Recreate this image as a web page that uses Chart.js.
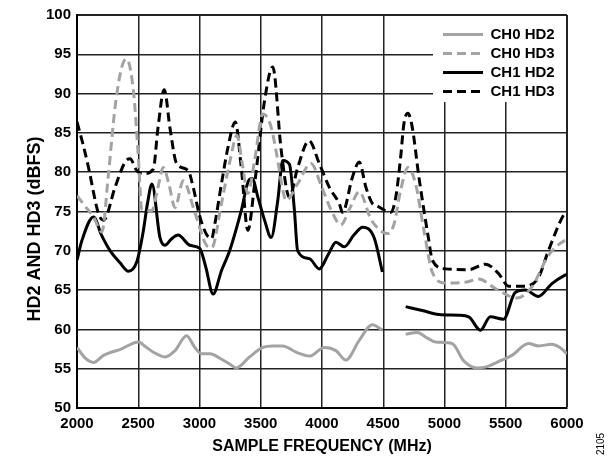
<!DOCTYPE html>
<html>
<head>
<meta charset="utf-8">
<title>HD2 and HD3 vs Sample Frequency</title>
<script src="https://cdn.jsdelivr.net/npm/chart.js@4.4.1/dist/chart.umd.min.js"></script>
<style>
  html, body { margin: 0; padding: 0; background: #fff; }
  canvas { display: block; }
</style>
</head>
<body>
<canvas id="hdChart" width="616" height="458"></canvas>
<script>
// values (MHz, dBFS); null marks the break in the HD2 traces
const ch0Hd2Freq = [2000, 2070, 2135, 2217, 2360, 2501, 2560, 2623, 2718, 2800, 2894, 2962, 3016, 3084, 3170, 3246, 3301, 3409, 3517, 3600, 3680, 3788, 3897, 4019, 4114, 4195, 4304, 4412, 4493, 4590, 4683, 4777, 4860, 4927, 5062, 5157, 5265, 5333, 5440, 5550, 5686, 5767, 5875, 5950, 6000];
const ch0Hd2 = [57.7, 56.3, 55.8, 56.7, 57.5, 58.4, 57.8, 57.1, 56.5, 57.3, 59.2, 57.7, 56.9, 56.9, 56.3, 55.6, 55.1, 56.5, 57.7, 57.9, 57.9, 57.1, 56.6, 57.7, 57.3, 56.1, 58.6, 60.6, 59.9, null, 59.4, 59.6, 58.9, 58.4, 58.2, 56.0, 55.1, 55.2, 55.9, 56.7, 58.2, 57.9, 58.1, 57.6, 56.9];

const ch0Hd3Freq = [2000, 2060, 2135, 2203, 2257, 2311, 2366, 2406, 2460, 2501, 2528, 2610, 2660, 2704, 2750, 2800, 2867, 2960, 3057, 3100, 3179, 3250, 3306, 3350, 3395, 3450, 3517, 3580, 3639, 3680, 3707, 3800, 3910, 4000, 4080, 4154, 4230, 4304, 4400, 4493, 4540, 4588, 4642, 4702, 4764, 4832, 4900, 5008, 5170, 5280, 5415, 5591, 5713, 5848, 5970, 6000];
const ch0Hd3 = [77.0, 75.8, 74.3, 72.4, 79.8, 88.3, 93.4, 94.4, 90.4, 81.9, 75.3, 75.1, 78.0, 80.6, 78.5, 75.5, 78.9, 75.0, 70.7, 70.4, 76.0, 81.5, 84.7, 81.0, 77.3, 81.5, 87.4, 86.0, 81.5, 77.7, 76.4, 78.5, 81.1, 78.0, 75.0, 73.3, 75.5, 77.5, 74.0, 72.4, 72.2, 73.4, 77.7, 80.6, 78.5, 72.6, 67.3, 65.9, 66.0, 66.4, 65.2, 64.0, 65.4, 69.4, 71.2, 71.3];

const ch1Hd2Freq = [2000, 2040, 2135, 2200, 2271, 2350, 2420, 2488, 2541, 2575, 2612, 2677, 2718, 2770, 2826, 2921, 3002, 3050, 3111, 3180, 3246, 3341, 3400, 3430, 3477, 3531, 3585, 3639, 3680, 3734, 3775, 3801, 3897, 3978, 4050, 4114, 4182, 4260, 4331, 4425, 4493, 4590, 4683, 4818, 4954, 5117, 5198, 5293, 5374, 5482, 5577, 5659, 5767, 5875, 5984, 6000];
const ch1Hd2 = [68.8, 71.3, 74.3, 72.0, 70.0, 68.5, 67.4, 68.6, 72.5, 76.0, 78.5, 71.7, 70.7, 71.5, 72.0, 70.7, 70.3, 68.0, 64.5, 67.5, 70.0, 75.1, 78.9, 79.2, 76.8, 73.9, 71.7, 76.4, 81.5, 81.0, 75.1, 70.0, 69.0, 67.7, 69.5, 71.1, 70.5, 72.0, 73.0, 71.7, 67.3, null, 62.9, 62.4, 61.9, 61.8, 61.6, 59.9, 61.6, 61.3, 64.7, 65.0, 64.2, 65.8, 66.9, 67.0];

const ch1Hd3Freq = [2000, 2050, 2094, 2176, 2217, 2311, 2393, 2433, 2488, 2541, 2623, 2660, 2712, 2760, 2813, 2908, 2950, 3000, 3060, 3100, 3125, 3179, 3233, 3292, 3341, 3395, 3450, 3531, 3598, 3667, 3734, 3800, 3894, 3978, 4059, 4141, 4168, 4249, 4304, 4358, 4412, 4439, 4561, 4602, 4642, 4669, 4702, 4737, 4791, 4872, 4900, 5008, 5198, 5333, 5442, 5523, 5659, 5767, 5848, 5970, 6000];
const ch1Hd3 = [86.4, 83.5, 80.6, 74.7, 73.9, 78.1, 81.3, 81.7, 80.2, 79.8, 80.4, 85.5, 90.5, 85.5, 81.1, 80.2, 78.0, 74.5, 72.0, 71.6, 73.4, 78.5, 83.2, 86.4, 80.6, 72.6, 78.5, 89.1, 93.4, 82.8, 76.8, 80.5, 84.0, 81.1, 78.1, 76.0, 74.9, 79.4, 81.3, 78.1, 76.0, 75.8, 74.9, 76.8, 81.9, 86.2, 87.5, 85.7, 79.4, 71.3, 68.8, 67.7, 67.6, 68.3, 67.1, 65.5, 65.5, 66.6, 70.0, 74.5, 75.0];

const seriesNames = ['CH0 HD2', 'CH0 HD3', 'CH1 HD2', 'CH1 HD3'];
const xTicks = { min: 2000, max: 6000, step: 500 };
const yTicks = { min: 50, max: 100, step: 5 };
const yTitle = 'HD2 AND HD3 (dBFS)';
const figureNumber = '2105';

const GRAY = '#a3a3a3';
const BLACK = '#000000';
const FONT = '"Liberation Sans", Arial, Helvetica, sans-serif';

function toPoints(freqs, values) {
    return freqs.map((f, i) => ({ x: f, y: values[i] }));
}

function makeDataset(label, freqs, values, color, dashed) {
    return {
        label: label,
        data: toPoints(freqs, values),
        borderColor: color,
        backgroundColor: color,
        borderWidth: 3,
        borderDash: dashed ? [9, 5] : [],
        borderCapStyle: 'butt',
        pointRadius: 0,
        fill: false,
        spanGaps: false,
        cubicInterpolationMode: 'monotone'
    };
}

// legend symbols take the dash and width of their line, not of the points
function legendLabels(chart) {
    const items = Chart.defaults.plugins.legend.labels.generateLabels(chart);
    items.forEach(item => {
        const ds = chart.data.datasets[item.datasetIndex];
        item.lineDash = ds.borderDash;
        item.lineWidth = ds.borderWidth;
        item.strokeStyle = ds.borderColor;
        item.fillStyle = ds.borderColor;
    });
    return items;
}

// white box behind the legend in the top right corner, legend moved there
const legendBoxPlugin = {
    id: 'legendBox',
    afterLayout(chart) {
        const lg = chart.legend;
        const area = chart.chartArea;
        const w = lg.width, h = lg.height;
        lg.left = area.right - 128;
        lg.top = area.top + 8;
        lg.right = lg.left + w;
        lg.bottom = lg.top + h;
    },
    beforeDatasetsDraw(chart) {
        const ctx = chart.ctx;
        const area = chart.chartArea;
        ctx.save();
        ctx.fillStyle = '#ffffff';
        ctx.fillRect(area.right - 134, area.top + 1, 133, 86);
        ctx.restore();
        chart.legend.draw();
    },
    afterDraw(chart) {
        const ctx = chart.ctx;
        ctx.save();
        ctx.fillStyle = '#000';
        ctx.textAlign = 'center';
        ctx.textBaseline = 'middle';

        // y axis title, sits a bit below the middle of the axis
        ctx.save();
        ctx.translate(35, 229);
        ctx.rotate(-Math.PI / 2);
        ctx.font = 'bold 18px ' + FONT;
        ctx.fillText(yTitle, 0, 0);
        ctx.restore();

        // figure number at the bottom right
        ctx.translate(601, 444);
        ctx.rotate(-Math.PI / 2);
        ctx.font = '10px ' + FONT;
        ctx.fillText(figureNumber, 0, 0);
        ctx.restore();
    }
};

function renderChart() {
    const ctx = document.getElementById('hdChart').getContext('2d');

    new Chart(ctx, {
        type: 'line',
        data: {
            datasets: [
                makeDataset(seriesNames[0], ch0Hd2Freq, ch0Hd2, GRAY, false),
                makeDataset(seriesNames[1], ch0Hd3Freq, ch0Hd3, GRAY, true),
                makeDataset(seriesNames[2], ch1Hd2Freq, ch1Hd2, BLACK, false),
                makeDataset(seriesNames[3], ch1Hd3Freq, ch1Hd3, BLACK, true)
            ]
        },
        options: {
            responsive: false,
            animation: false,
            layout: { padding: { left: 0, top: 14, right: 49, bottom: 0 } },
            plugins: {
                tooltip: { enabled: false },
                legend: {
                    position: 'chartArea',
                    align: 'start',
                    labels: {
                        usePointStyle: true,
                        pointStyle: 'line',
                        pointStyleWidth: 40,
                        padding: 4,
                        color: '#000',
                        font: { family: FONT, size: 15, weight: 'bold' },
                        generateLabels: legendLabels
                    }
                }
            },
            scales: {
                x: {
                    type: 'linear',
                    min: xTicks.min,
                    max: xTicks.max,
                    afterFit: scale => { scale.height = 50; },
                    ticks: {
                        stepSize: xTicks.step,
                        maxRotation: 0,
                        padding: 7,
                        color: '#000',
                        font: { family: FONT, size: 15, weight: 'bold' },
                        callback: v => String(v)
                    },
                    grid: {
                        color: '#222',
                        lineWidth: c => (c.tick && c.tick.value === xTicks.max ? 2 : 1.5),
                        drawTicks: false,
                        z: -1
                    },
                    border: { color: '#000', width: 2 },
                    title: {
                        display: true,
                        text: 'SAMPLE FREQUENCY (MHz)',
                        color: '#000',
                        font: { family: FONT, size: 16, weight: 'bold', lineHeight: 1 },
                        padding: { top: 0, bottom: 3 }
                    }
                },
                y: {
                    min: yTicks.min,
                    max: yTicks.max,
                    afterFit: scale => { scale.width = 77; },
                    ticks: {
                        stepSize: yTicks.step,
                        padding: 6,
                        color: '#000',
                        font: { family: FONT, size: 15, weight: 'bold' }
                    },
                    grid: {
                        color: '#222',
                        lineWidth: c => (c.tick && c.tick.value === yTicks.max ? 2 : 1.5),
                        drawTicks: false,
                        z: -1
                    },
                    border: { color: '#000', width: 2 }
                }
            }
        },
        plugins: [legendBoxPlugin]
    });
}

renderChart();
</script>
</body>
</html>
